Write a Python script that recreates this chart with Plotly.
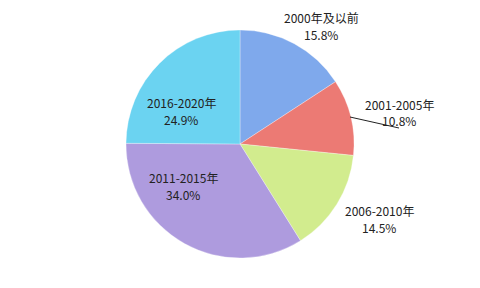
import plotly.graph_objects as go

labels = ["2000年及以前", "2001-2005年", "2006-2010年", "2011-2015年", "2016-2020年"]
values = [15.8, 10.8, 14.5, 34.0, 24.9]
colors = ["#7FA9EC", "#EC7A74", "#D2EC8E", "#AE9BDE", "#6BD3F1"]

# label anchor positions in pixels (x, y from top of the first line) of the 480x288 canvas
label_pos = [(321, 17), (399, 104), (379, 210), (183, 177), (181, 102)]
line_gap = 17

W, H = 480, 288

fig = go.Figure(go.Pie(
    labels=labels,
    values=values,
    sort=False,
    direction="clockwise",
    rotation=0,
    textinfo="none",
    hoverinfo="label+percent",
    marker=dict(colors=colors, line=dict(color="rgba(255,255,255,0.6)", width=0.5)),
    domain=dict(x=[126 / W, 354 / W], y=[1 - 258 / H, 1 - 30 / H]),
    showlegend=False,
))

font = dict(family="Noto Sans CJK SC, sans-serif", size=12, color="#222222")
annotations = []
for lab, val, (px, py) in zip(labels, values, label_pos):
    for i, txt in enumerate([lab, f"{val:.1f}%"]):
        annotations.append(dict(
            x=px / W, y=1 - (py + i * line_gap) / H, xref="paper", yref="paper",
            text=txt, showarrow=False, font=font,
            xanchor="center", yanchor="middle",
        ))

fig.update_layout(
    width=W, height=H,
    margin=dict(l=0, r=0, t=0, b=0),
    paper_bgcolor="white",
    plot_bgcolor="white",
    annotations=annotations,
    shapes=[dict(type="line", xref="paper", yref="paper",
                 x0=350 / W, y0=1 - 117 / H, x1=399 / W, y1=1 - 128 / H,
                 line=dict(color="#222222", width=1))],
)

fig.write_html("out.html")
